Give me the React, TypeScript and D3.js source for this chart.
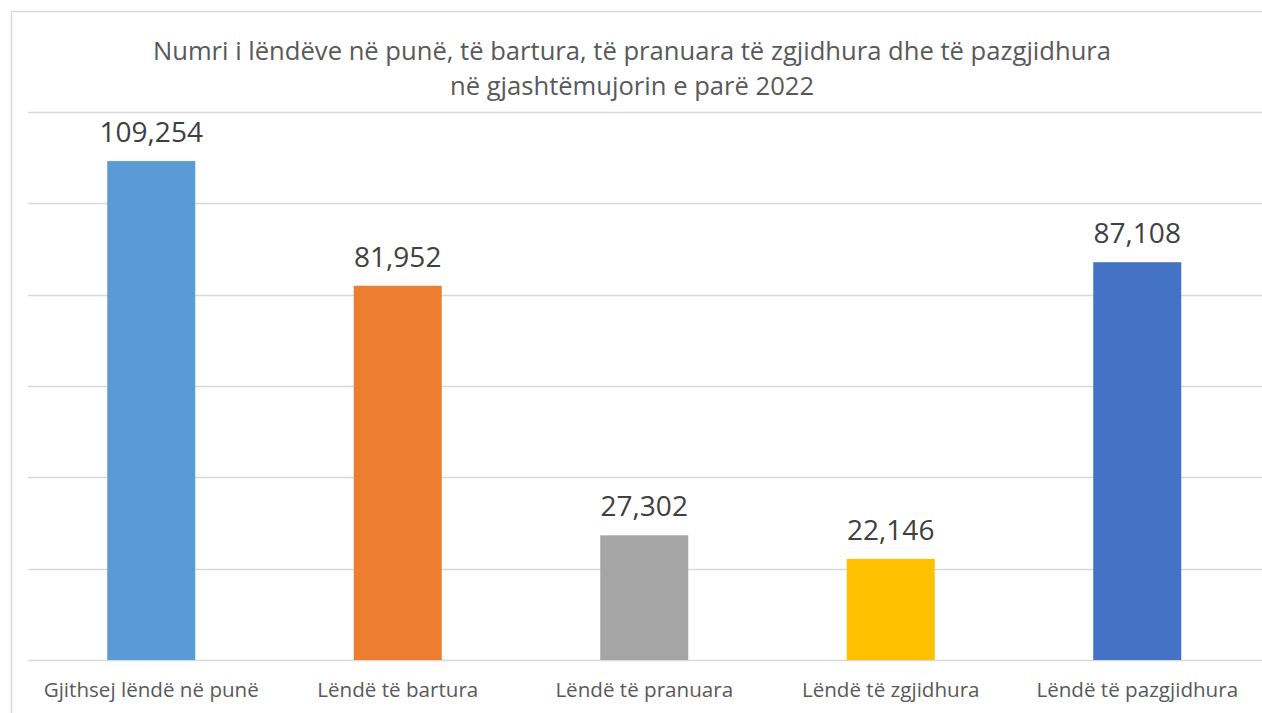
import React, { useRef, useEffect } from 'react';
import * as d3 from 'd3';

const categories = [
    'Gjithsej lëndë në punë',
    'Lëndë të bartura',
    'Lëndë të pranuara',
    'Lëndë të zgjidhura',
    'Lëndë të pazgjidhura',
];
const values = [109254, 81952, 27302, 22146, 87108];
const barColors = ['#5B9BD5', '#ED7D31', '#A5A5A5', '#FFC000', '#4472C4'];
const yTicks = [0, 20000, 40000, 60000, 80000, 100000, 120000];
const titleLines = [
    'Numri i lëndëve në punë, të bartura, të pranuara të zgjidhura dhe të pazgjidhura',
    'në gjashtëmujorin e parë 2022',
];

const W = 1262;
const H = 713;
const FONT = '"Open Sans", "DejaVu Sans", sans-serif';
const TEXT = '#595959';

const App = () => {
    const svgRef = useRef<SVGSVGElement | null>(null);

    useEffect(() => {
        document.body.style.margin = '0';
        if (!svgRef.current) return;

        const svg = d3.select(svgRef.current);
        svg.selectAll('*').remove();

        const left = 28, right = 1260.5, top = 112, bottom = 660;

        const x = d3.scaleBand<string>()
            .domain(categories)
            .range([left, right])
            .paddingInner(0.643)
            .paddingOuter(0.3215);
        const y = d3.scaleLinear().domain([0, 120000]).range([bottom, top]);

        // chart frame (runs off the window on right/bottom)
        svg.append('rect')
            .attr('x', 11.5).attr('y', 11.5)
            .attr('width', W + 20).attr('height', H + 20)
            .attr('fill', '#fff')
            .attr('stroke', '#d9d9d9').attr('stroke-width', 1.5);

        // title
        svg.append('text')
            .attr('text-anchor', 'middle')
            .attr('font-family', FONT)
            .attr('font-size', '25.6px')
            .attr('fill', TEXT)
            .selectAll('tspan').data(titleLines).enter().append('tspan')
            .attr('x', 632)
            .attr('y', (_, i) => 60 + i * 35)
            .text(d => d);

        // gridlines
        svg.append('g').selectAll('line').data(yTicks).enter().append('line')
            .attr('x1', left).attr('x2', W)
            .attr('y1', d => Math.round(y(d)) + 0.5)
            .attr('y2', d => Math.round(y(d)) + 0.5)
            .attr('stroke', '#d9d9d9').attr('stroke-width', 1.5);

        // bars
        svg.append('g').selectAll('rect').data(values).enter().append('rect')
            .attr('x', (_, i) => x(categories[i])!)
            .attr('width', x.bandwidth())
            .attr('y', d => y(d))
            .attr('height', d => bottom - y(d))
            .attr('fill', (_, i) => barColors[i]);

        // value labels
        const fmt = d3.format(',');
        svg.append('g').selectAll('text').data(values).enter().append('text')
            .attr('x', (_, i) => x(categories[i])! + x.bandwidth() / 2)
            .attr('y', d => y(d) - 19)
            .attr('text-anchor', 'middle')
            .attr('font-family', FONT)
            .attr('font-size', '28px')
            .attr('fill', '#404040')
            .text(d => fmt(d));

        // category labels
        svg.append('g').selectAll('text').data(categories).enter().append('text')
            .attr('x', d => x(d)! + x.bandwidth() / 2)
            .attr('y', 697)
            .attr('text-anchor', 'middle')
            .attr('font-family', FONT)
            .attr('font-size', '20.6px')
            .attr('fill', TEXT)
            .text(d => d);
    }, []);

    return <svg ref={svgRef} width={W} height={H} style={{ display: 'block' }} />;
};

export default App;
